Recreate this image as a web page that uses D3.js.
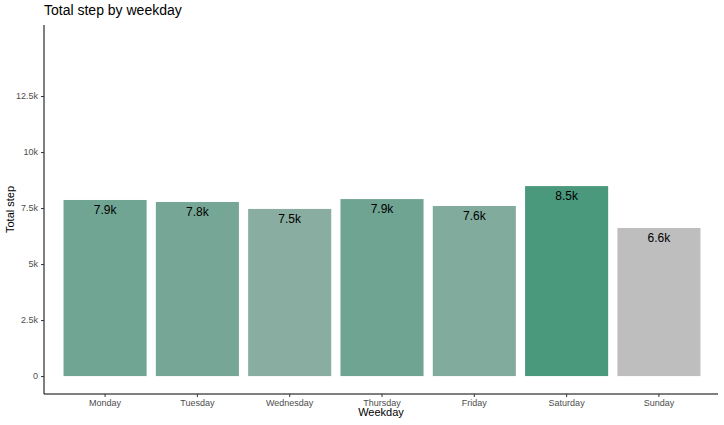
<!DOCTYPE html>
<html><head><meta charset="utf-8">
<script src="https://cdn.jsdelivr.net/npm/d3@7"></script>
<style>body{margin:0;background:#fff;font-family:"Liberation Sans",Arial,sans-serif}</style>
</head><body><svg id="c" width="724" height="425"></svg>
<script>
var weekdays = ["Monday","Tuesday","Wednesday","Thursday","Friday","Saturday","Sunday"];
var total_steps = [7860, 7770, 7460, 7900, 7590, 8480, 6610];
var y_ticks = [0, 2500, 5000, 7500, 10000, 12500];
var y_tick_labels = ["0","2.5k","5k","7.5k","10k","12.5k"];

var svg = d3.select("#c");
var p_left = 44, p_right = 718, p_top = 25, p_bottom = 394;

var x = d3.scaleBand().domain(weekdays).range([54.3, 709.7]).padding(0.1);
var y = d3.scaleLinear().domain([-800, 15670]).range([p_bottom, p_top]);
var color = d3.scaleLinear().domain([d3.min(total_steps), d3.max(total_steps)]).range(["#bebebe", "#4a997d"]);

svg.selectAll("rect.bar").data(weekdays).enter().append("rect")
    .attr("x", function(d){ return x(d); })
    .attr("width", x.bandwidth())
    .attr("y", function(d, i){ return y(total_steps[i]); })
    .attr("height", function(d, i){ return y(0) - y(total_steps[i]); })
    .attr("fill", function(d, i){ return color(total_steps[i]); });

svg.selectAll("text.lab").data(weekdays).enter().append("text")
    .attr("x", function(d){ return x(d) + x.bandwidth()/2; })
    .attr("y", function(d, i){ return y(total_steps[i]) + 14; })
    .attr("text-anchor", "middle")
    .style("font-size", "12px")
    .text(function(d, i){ return (total_steps[i]/1000).toFixed(1) + "k"; });

// axes
var ya = svg.append("g").attr("transform", "translate(" + p_left + ",0)")
    .call(d3.axisLeft(y).tickValues(y_ticks).tickSize(3).tickFormat(function(d, i){ return y_tick_labels[i]; }));
ya.select(".domain").attr("d", "M0," + p_top + "V" + p_bottom);
var xa = svg.append("g").attr("transform", "translate(0," + p_bottom + ")")
    .call(d3.axisBottom(x).tickSize(3));
xa.select(".domain").attr("d", "M" + p_left + ",0H" + p_right);
svg.selectAll(".tick text").style("font-size", "9px").attr("fill", "#4d4d4d").style("font-family", "Liberation Sans, Arial, sans-serif");
svg.selectAll(".tick line").attr("stroke", "#333");

svg.append("text").attr("x", 44).attr("y", 15).style("font-size", "14px").text("Total step by weekday");
svg.append("text").attr("x", (p_left + p_right)/2).attr("y", 416).attr("text-anchor", "middle").style("font-size", "11px").text("Weekday");
svg.append("text").attr("transform", "translate(14," + (p_top + p_bottom)/2 + ") rotate(-90)").attr("text-anchor", "middle").style("font-size", "11px").text("Total step");
</script></body></html>
